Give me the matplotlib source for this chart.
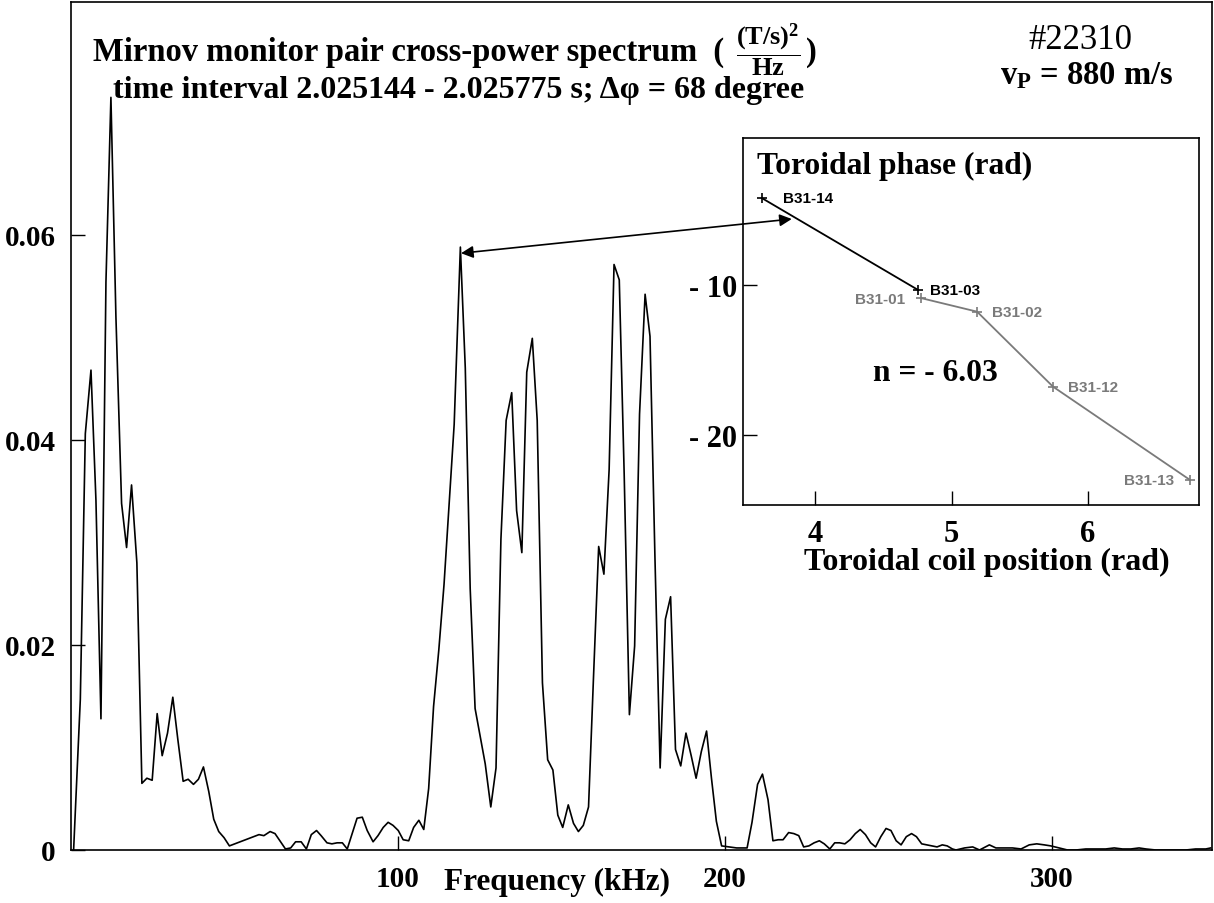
import matplotlib
matplotlib.use("Agg")
import matplotlib.pyplot as plt
from matplotlib.patches import ConnectionPatch

# ---------------- data ----------------
freq_khz = [0.8, 2.85, 4.38, 6.11, 7.63, 9.16, 10.69, 12.21, 13.74, 15.47, 17.00, 18.52, 20.15,
            21.68, 23.21, 24.83, 26.36, 27.89, 29.52, 31.14, 32.67, 34.30, 35.83, 37.46, 38.98,
            40.51, 42.14, 43.66, 45.19, 46.82, 48.45,
            57.5, 59.0, 60.9, 62.4, 65.6, 67.2, 68.7, 70.4, 72.0, 73.5, 75.1, 76.5, 78.3, 79.8,
            81.4, 83.0, 84.5, 87.5, 89.1, 90.6, 92.4, 93.9, 95.5, 97.0, 98.5, 100.1, 101.6,
            103.3, 104.8, 106.4,
            107.9, 109.4, 110.9, 112.5, 114.1, 115.6, 117.2, 119.1, 120.6, 122.1, 123.6, 125.1,
            126.7, 128.4, 130.0, 131.5, 133.1, 134.8, 136.3, 137.9, 139.4, 141.1, 142.6, 144.2,
            145.8, 147.4, 148.9, 150.4, 152.1, 153.7, 155.2, 156.7, 158.3, 159.8, 161.4, 163.0,
            164.6, 166.1, 167.7, 169.2, 170.8, 172.4, 173.9, 175.6, 177.1, 178.6, 180.2, 181.8,
            183.4, 184.9, 186.5, 188.1, 189.7, 191.2, 192.8, 194.4, 195.9, 197.4, 199.0,
            203.6, 206.8, 208.3, 210.0, 211.5, 213.2, 214.7, 216.3, 217.8, 219.5, 221.1, 222.6,
            224.1, 225.7, 227.3, 228.9, 230.4, 232.1, 233.6, 235.1, 236.7, 238.3, 239.9, 241.4,
            243.0, 244.6, 246.1, 247.7, 249.3, 250.8, 252.4, 253.9, 255.5, 257.1, 258.6, 260.2,
            261.8, 263.3, 264.9, 266.5, 268.0, 269.6,
            270.7, 273.3, 275.8, 277.9, 280.9, 282.9, 285.5, 288.0, 290.6, 293.1, 295.4, 297.7,
            299.7, 302.3, 304.8, 307.4, 310.4, 313.5, 316.5, 319.1, 321.6, 324.2, 326.7, 328.8,
            331.8, 334.9, 337.9, 341.0, 344.0, 347.1, 348.6]

power = [0.0, 0.0147, 0.0406, 0.0468, 0.0341, 0.0128, 0.0554, 0.0734, 0.0520, 0.0338, 0.0295,
         0.0356, 0.0280, 0.0065, 0.0070, 0.0068, 0.0133, 0.0092, 0.0114, 0.0149, 0.0108, 0.0067,
         0.0069, 0.0064, 0.0069, 0.0081, 0.0057, 0.0030, 0.0018, 0.0012, 0.0004,
         0.0015, 0.0014, 0.0018, 0.0016, 0.0001, 0.0002, 0.0008, 0.0008, 0.0001, 0.0015, 0.0019,
         0.0014, 0.0007, 0.0006, 0.0007, 0.0007, 0.0001, 0.0031, 0.0032, 0.0019, 0.0008, 0.0014,
         0.0022, 0.0027, 0.0024, 0.0019, 0.0010, 0.0009, 0.0022, 0.0029,
         0.0020, 0.0060, 0.0140, 0.0195, 0.0259, 0.0335, 0.0415, 0.0588, 0.0470, 0.0255, 0.0138,
         0.0112, 0.0084, 0.0042, 0.0080, 0.0303, 0.0419, 0.0446, 0.0331, 0.0290, 0.0466, 0.0499,
         0.0419, 0.0163, 0.0088, 0.0078, 0.0034, 0.0022, 0.0044, 0.0026, 0.0018, 0.0024, 0.0042,
         0.0167, 0.0296, 0.0269, 0.0371, 0.0571, 0.0556, 0.0367, 0.0132, 0.0199, 0.0425, 0.0542,
         0.0501, 0.0287, 0.0080, 0.0225, 0.0247, 0.0098, 0.0082, 0.0114, 0.0092, 0.0070, 0.0096,
         0.0116, 0.0070, 0.0028, 0.0004,
         0.0002, 0.0002, 0.0027, 0.0064, 0.0074, 0.0049, 0.0009, 0.0010, 0.0010, 0.0017, 0.0016,
         0.0014, 0.0003, 0.0004, 0.0007, 0.0009, 0.0006, 0.0001, 0.0007, 0.0007, 0.0006, 0.0010,
         0.0016, 0.0020, 0.0015, 0.0007, 0.0003, 0.0013, 0.0021, 0.0019, 0.0009, 0.0005, 0.0013,
         0.0016, 0.0013, 0.0006, 0.0005, 0.0004, 0.0003, 0.0005, 0.0004, 0.0001,
         0.0000, 0.0002, 0.0003, 0.0000, 0.0005, 0.0002, 0.0002, 0.0002, 0.0001, 0.0005, 0.0006,
         0.0005, 0.0004, 0.0002, 0.0000, 0.0000, 0.0001, 0.0001, 0.0001, 0.0002, 0.0001, 0.0001,
         0.0002, 0.0001, 0.0000, 0.0000, 0.0000, 0.0000, 0.0001, 0.0001, 0.0002]

x_ticks = [100, 200, 300]
x_tick_labels = ["100", "200", "300"]
y_ticks = [0.0, 0.02, 0.04, 0.06]
y_tick_labels = ["0", "0.02", "0.04", "0.06"]

# inset: toroidal phase vs coil position
coil_black = [3.61, 4.751]
phase_black = [-4.2, -10.31]
names_black = ["B31-14", "B31-03"]
coil_gray = [4.775, 5.187, 5.743, 6.743]
phase_gray = [-10.87, -11.78, -16.78, -22.98]
names_gray = ["B31-01", "B31-02", "B31-12", "B31-13"]
inset_x_ticks = [4, 5, 6]
inset_x_tick_labels = ["4", "5", "6"]
inset_y_ticks = [-20, -10]
inset_y_tick_labels = ["- 20", "- 10"]

# ---------------- style ----------------
plt.rcParams['font.family'] = ['Liberation Serif', 'DejaVu Serif']
plt.rcParams['font.weight'] = 'bold'
plt.rcParams['mathtext.fontset'] = 'custom'
plt.rcParams['mathtext.rm'] = 'Liberation Serif:bold'
plt.rcParams['mathtext.bf'] = 'Liberation Serif:bold'
plt.rcParams['mathtext.it'] = 'Liberation Serif:bold:italic'
plt.rcParams['mathtext.default'] = 'rm'

W, H = 1214, 904
fig = plt.figure(figsize=(W / 100, H / 100), dpi=100)


def fx(px):
    return px / W


def fy(py):
    return 1 - py / H


ax = fig.add_axes([fx(71), fy(851), (1212 - 71) / W, (851 - 3) / H])
ax.plot(freq_khz, power, color='black', lw=1.2)
ax.set_xlim(0, 349)
ax.set_ylim(0, 0.0827)
ax.set_xticks(x_ticks)
ax.set_xticklabels(x_tick_labels)
ax.set_yticks(y_ticks)
ax.set_yticklabels(y_tick_labels)
ax.tick_params(direction='in', length=10, width=1.0, labelsize=21, top=False, right=False)
ax.tick_params(axis='y', pad=11)
ax.tick_params(axis='x', pad=11)
for s in ax.spines.values():
    s.set_linewidth(1.2)

# titles
fig.text(fx(93), fy(61), "Mirnov monitor pair cross-power spectrum  (", fontsize=23.5,
         ha='left', va='baseline')
fig.text(fx(768), fy(50), r"$\dfrac{(T/s)^2}{Hz}$", fontsize=19, ha='center', va='center')
fig.text(fx(811), fy(61), ")", fontsize=23.5, ha='center', va='baseline')
fig.text(fx(113), fy(98), "time interval 2.025144 - 2.025775 s; \u0394\u03c6 = 68 degree",
         fontsize=23, ha='left', va='baseline')
fig.text(fx(1080), fy(49), "#22310", fontsize=25, fontweight='normal', ha='center',
         va='baseline')
fig.text(fx(1087), fy(84), r"$v_P$ = 880 m/s", fontsize=23.5, ha='center', va='baseline')
fig.text(fx(557), fy(890), "Frequency (kHz)", fontsize=22.5, ha='center', va='baseline')

# inset
axin = fig.add_axes([fx(743), fy(506), 456 / W, 367 / H])
axin.plot(coil_black, phase_black, color='black', lw=1.3, marker='+', ms=7, mew=1.2)
axin.plot(coil_gray, phase_gray, color='#7a7a7a', lw=1.3, marker='+', ms=7, mew=1.2)
axin.set_xlim(3.473, 6.812)
axin.set_ylim(-24.67, -0.2)
axin.set_xticks(inset_x_ticks)
axin.set_xticklabels(inset_x_tick_labels)
axin.set_yticks(inset_y_ticks)
axin.set_yticklabels(inset_y_tick_labels)
axin.tick_params(direction='in', length=10, width=1.0, labelsize=22, top=False, right=False)
axin.tick_params(axis='y', pad=4)
axin.tick_params(axis='x', pad=10)
for s in axin.spines.values():
    s.set_linewidth(1.2)

label_font = dict(family=['Liberation Sans', 'DejaVu Sans'], fontweight='bold', fontsize=11)
offs_black = [(15, 0, 'left'), (9, 0, 'left')]
for (xv, yv, nm, (dx, dy, ha)) in zip(coil_black, phase_black, names_black, offs_black):
    axin.annotate(nm, (xv, yv), xytext=(dx, dy), textcoords='offset points', ha=ha,
                  va='center', color='black', **label_font)
offs_gray = [(-11, -1, 'right'), (11, 0, 'left'), (11, 0, 'left'), (-11, 0, 'right')]
for (xv, yv, nm, (dx, dy, ha)) in zip(coil_gray, phase_gray, names_gray, offs_gray):
    axin.annotate(nm, (xv, yv), xytext=(dx, dy), textcoords='offset points', ha=ha,
                  va='center', color='#7a7a7a', **label_font)

fig.text(fx(757), fy(174), "Toroidal phase (rad)", fontsize=22.7, ha='left', va='baseline')
fig.text(fx(935), fy(381), "n = - 6.03", fontsize=22.7, ha='center', va='baseline')
fig.text(fx(987), fy(570), "Toroidal coil position (rad)", fontsize=23, ha='center',
         va='baseline')

# arrow linking the spectral peak and the phase plot
con = ConnectionPatch(xyA=(3.83, -5.6), coordsA=axin.transData,
                      xyB=(119.3, 0.0582), coordsB=ax.transData,
                      arrowstyle='<|-|>', mutation_scale=18, color='black', lw=1.2,
                      shrinkA=0, shrinkB=0)
fig.add_artist(con)

fig.savefig("out.png", dpi=100)
